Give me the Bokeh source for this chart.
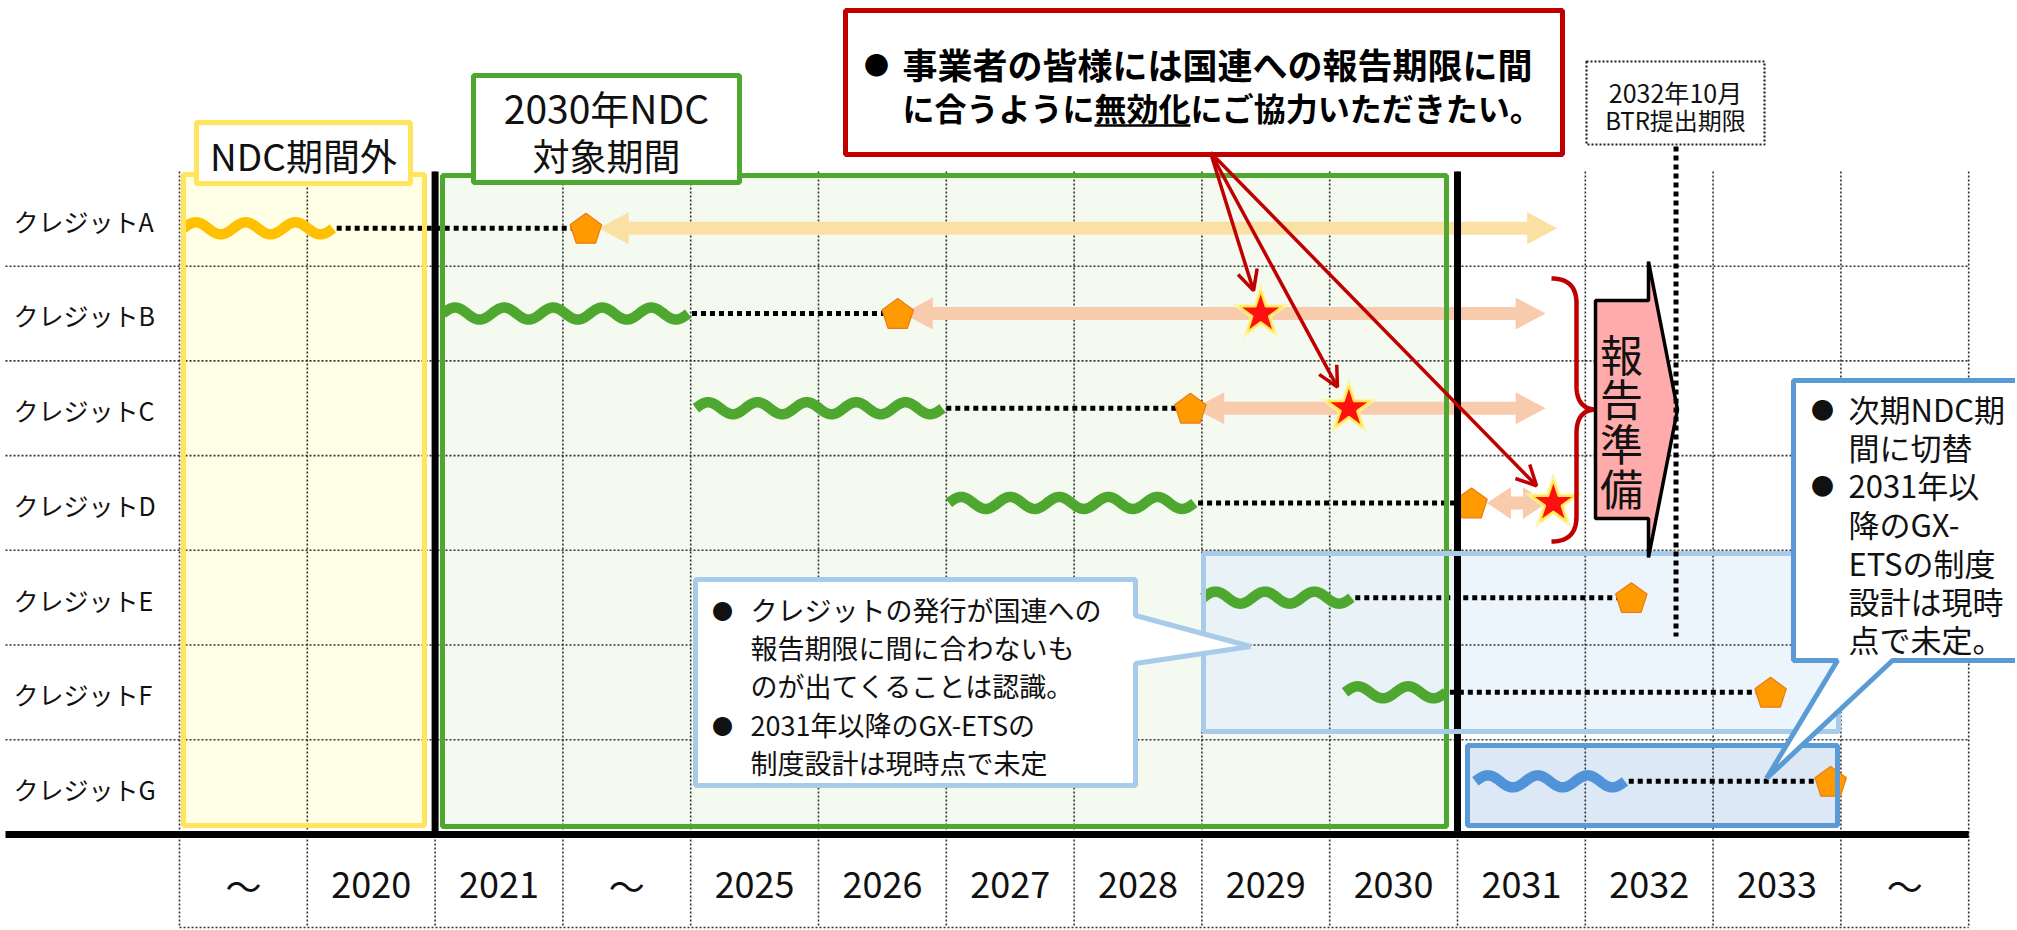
import numpy as np
from bokeh.plotting import figure
from bokeh.models import Range1d, Arrow, OpenHead
from bokeh.core.properties import value
from bokeh.embed import file_html
from bokeh.resources import INLINE

# ---------------- data ----------------
credits = ["クレジットA", "クレジットB", "クレジットC", "クレジットD",
           "クレジットE", "クレジットF", "クレジットG"]
periods = ["～", "2020", "2021", "～", "2025", "2026", "2027", "2028",
           "2029", "2030", "2031", "2032", "2033", "～"]
credit_row = [0.60, 1.50, 2.50, 3.50, 4.50, 5.50, 6.44]
issue_start = [0.03, 2.06, 4.04, 6.02, 8.01, 9.12, 10.14]
issue_end = [1.20, 3.98, 5.97, 7.94, 9.17, 9.91, 11.31]
issue_waves = [3, 5, 5, 5, 3, 2, 3]
issue_period = ["outside", "ndc", "ndc", "ndc", "ndc", "ndc", "next"]
cancel_at = [3.18, 5.62, 7.91, 10.11, 11.36, 12.45, 12.92]
valid_from = [3.28, 5.66, 7.94, 10.23]
valid_to = [10.78, 10.69, 10.69, 10.70]
deadline_idx = [1, 2, 3]
deadline_at = [8.46, 9.15, 10.75]
btr_deadline = 11.71

# ---------------- layout ----------------
FONT = "Noto Sans CJK JP"
OFF = 0
W, H = 2015, 929
GX0, COL_W = 179.0, 127.8
GY0, ROW_H = 171.0, 94.7


def X(px):
    return (px - GX0) / COL_W


def Y(py):
    return (py - GY0) / ROW_H


def poly(pts):
    return [X(a) for a, b in pts], [Y(b) for a, b in pts]


p = figure(width=W, height=H, output_backend="svg", toolbar_location=None,
           x_range=Range1d(X(OFF), X(OFF + W)), y_range=Range1d(Y(OFF + H), Y(OFF)),
           x_axis_type=None, y_axis_type=None, min_border=0)
p.xgrid.visible = False
p.ygrid.visible = False
p.outline_line_color = None
p.background_fill_color = "white"
p.border_fill_color = "white"

WAVE_COL = {"outside": "#FFC000", "ndc": "#4EA72E", "next": "#5093D8"}
RED = "#C00000"
YEL = "#FFE45C"
GRN = "#4EA72E"
LBLUE = "#A8CBEA"
BLUE = "#5B9BD5"


def txt(x, y, t, size, align="left", bold=False, color="#111111"):
    p.text(x=x, y=y, text=t, text_font=value(FONT), text_font_size=f"{size}px",
           text_align=align, text_baseline="middle", text_color=color,
           text_font_style="bold" if bold else "normal")


# ---- period fills ----
p.quad(left=[X(183)], right=[X(424)], top=[Y(174)], bottom=[Y(825)],
       fill_color="#FFFFE6", line_color=None)
p.quad(left=[X(442)], right=[X(1446)], top=[Y(175)], bottom=[Y(826)],
       fill_color="#F5FAF1", line_color=None)
p.quad(left=[X(1203)], right=[X(1838)], top=[Y(553)], bottom=[Y(731)],
       fill_color="#E2EFFA", fill_alpha=0.65, line_color=None)
p.quad(left=[X(1467)], right=[X(1837)], top=[Y(745)], bottom=[Y(825)],
       fill_color="#DCE8F5", line_color=None)

# ---- thin dotted grid ----
ncol = len(periods)
nrow = len(credits)
p.segment(x0=list(range(ncol + 1)), x1=list(range(ncol + 1)),
          y0=[0] * (ncol + 1), y1=[Y(927)] * (ncol + 1),
          line_color="#333333", line_width=1.6, line_dash="2 2")
p.segment(x0=[X(5)] * (nrow - 1), x1=[ncol] * (nrow - 1),
          y0=list(range(1, nrow)), y1=list(range(1, nrow)),
          line_color="#333333", line_width=1.6, line_dash="2 2")
p.segment(x0=[0], x1=[ncol], y0=[Y(927)], y1=[Y(927)],
          line_color="#333333", line_width=1.6, line_dash="2 2")

# ---- credits: connectors, waves, cancellation marks ----
p.segment(x0=[e + 0.03 for e in issue_end], x1=cancel_at, y0=credit_row, y1=credit_row,
          line_color="black", line_width=5, line_dash="5 4")
for i in range(nrow):
    t = np.linspace(0, 1, 400)
    s = np.sin(2 * np.pi * issue_waves[i] * t)
    off = s * 6.0
    xs = issue_start[i] + (issue_end[i] - issue_start[i]) * t
    ys = credit_row[i] - off / ROW_H
    p.line(xs, ys, line_width=10.5, line_color=WAVE_COL[issue_period[i]])

# double arrows (validity)
arr_x, arr_y, arr_c = [], [], []
for i in range(len(valid_from)):
    xl = GX0 + valid_from[i] * COL_W
    xr = GX0 + valid_to[i] * COL_W
    yc = GY0 + credit_row[i] * ROW_H
    hl = min(30.0, 0.4 * (xr - xl))
    hh, sh = 16.0, 6.5
    pts = [(xl, yc), (xl + hl, yc - hh), (xl + hl, yc - sh), (xr - hl, yc - sh),
           (xr - hl, yc - hh), (xr, yc), (xr - hl, yc + hh), (xr - hl, yc + sh),
           (xl + hl, yc + sh), (xl + hl, yc + hh)]
    a, b = poly(pts)
    arr_x.append(a)
    arr_y.append(b)
    arr_c.append("#FBE0A3" if i == 0 else "#F8CBAD")
p.patches(arr_x, arr_y, fill_color=arr_c, line_color=None)

# pentagons
pg_x, pg_y = [], []
for i in range(nrow):
    cx = GX0 + cancel_at[i] * COL_W
    cy = GY0 + credit_row[i] * ROW_H
    ang = np.pi / 2 + np.arange(5) * 2 * np.pi / 5
    pts = [(cx + 16.5 * np.cos(a), cy - 16.5 * np.sin(a) + 1.5) for a in ang]
    a, b = poly(pts)
    pg_x.append(a)
    pg_y.append(b)
p.patches(pg_x, pg_y, fill_color="#FF9A00", line_color="#EE7A10", line_width=1.2)

# stars (reporting deadline)
star_y = [credit_row[i] for i in deadline_idx]
p.scatter(x=deadline_at, y=star_y, marker="star", size=62, fill_color="#FFF3A0",
          fill_alpha=0.8, line_color=None)
p.scatter(x=deadline_at, y=star_y, marker="star", size=45, fill_color="#FF1010",
          line_color="#FFE84A", line_width=2)

# ---- thick black lines ----
p.segment(x0=[2, 10], x1=[2, 10], y0=[Y(171)] * 2, y1=[Y(834)] * 2,
          line_color="black", line_width=7)
p.segment(x0=[X(5)], x1=[ncol], y0=[Y(834)], y1=[Y(834)],
          line_color="black", line_width=7)

# ---- period borders ----
p.quad(left=[X(183)], right=[X(424)], top=[Y(174)], bottom=[Y(825)],
       fill_color=None, line_color=YEL, line_width=5)
p.quad(left=[X(442)], right=[X(1446)], top=[Y(175)], bottom=[Y(826)],
       fill_color=None, line_color=GRN, line_width=5)
p.quad(left=[X(1203)], right=[X(1838)], top=[Y(553)], bottom=[Y(731)],
       fill_color=None, line_color=LBLUE, line_width=5)
p.quad(left=[X(1467)], right=[X(1837)], top=[Y(745)], bottom=[Y(825)],
       fill_color=None, line_color=BLUE, line_width=5)

# label boxes
p.quad(left=[X(196)], right=[X(410)], top=[Y(122)], bottom=[Y(183)],
       fill_color="white", line_color=YEL, line_width=5)
txt([X(303)], [Y(154)], ["NDC期間外"], 37, align="center")
p.quad(left=[X(473)], right=[X(739)], top=[Y(75)], bottom=[Y(182)],
       fill_color="white", line_color=GRN, line_width=5)
txt([X(606)], [Y(106)], ["2030年NDC"], 39, align="center")
txt([X(606)], [Y(154)], ["対象期間"], 37, align="center")

# row labels & period labels
txt([X(13)] * nrow, [i + 0.52 for i in range(nrow)], credits, 25)
txt([i + 0.5 for i in range(ncol)], [Y(884)] * ncol, periods, 36, align="center")

# ---- brace ----
def quad_bez(p0, c, p1, n=30):
    t = np.linspace(0, 1, n)[:, None]
    P0, C, P1 = np.array(p0), np.array(c), np.array(p1)
    return (1 - t) ** 2 * P0 + 2 * (1 - t) * t * C + t ** 2 * P1


seg = [quad_bez((1551, 278), (1576, 278), (1576, 303)),
       np.array([[1576, 303], [1576, 385]]),
       quad_bez((1576, 385), (1576, 409), (1596, 409)),
       quad_bez((1596, 409), (1576, 409), (1576, 433)),
       np.array([[1576, 433], [1576, 516]]),
       quad_bez((1576, 516), (1576, 541), (1551, 541))]
br = np.vstack(seg)
p.line([X(a) for a in br[:, 0]], [Y(b) for b in br[:, 1]], line_color=RED, line_width=4.5)

# ---- pink block arrow ----
a, b = poly([(1595, 300), (1648, 300), (1648, 261), (1677, 409), (1648, 557),
             (1648, 518), (1595, 518)])
p.patch(a, b, fill_color="#FFABAB", line_color="black", line_width=3.5)
txt([X(1621)] * 4, [Y(352), Y(396), Y(441), Y(486)], list("報告準備"), 43, align="center")

# ---- BTR deadline ----
p.quad(left=[X(1586)], right=[X(1764)], top=[Y(61)], bottom=[Y(144)],
       fill_color="white", line_color="#222222", line_width=2.2, line_dash="2 2")
txt([X(1675)], [Y(91)], ["2032年10月"], 25, align="center")
txt([X(1675)], [Y(119)], ["BTR提出期限"], 24, align="center")
p.segment(x0=[btr_deadline], x1=[btr_deadline], y0=[Y(146)], y1=[Y(636)],
          line_color="black", line_width=5, line_dash="5 4")

# ---- red message box ----
p.quad(left=[X(845)], right=[X(1562)], top=[Y(10)], bottom=[Y(154)],
       fill_color="white", line_color=RED, line_width=5)
FS = 32
txt([X(876)], [Y(63)], ["●"], 25, align="center", color="black")
txt([X(902)], [Y(63)], ["事業者の皆様には国連への報告期限に間"], 35, bold=True, color="black")
pre, mid, post = "に合うように", "無効化", "にご協力いただきたい。"
x1 = 902 + len(pre) * FS
x2 = x1 + len(mid) * FS
txt([X(902), X(x1), X(x2)], [Y(106)] * 3, [pre, mid, post], FS, bold=True, color="black")
p.segment(x0=[X(x1)], x1=[X(x2)], y0=[Y(125)], y1=[Y(125)], line_color="black", line_width=2.5)

# red pointer arrows to the stars
sx0, sy0 = 1210.0, 152.0
for k, i in enumerate(deadline_idx):
    tx = GX0 + deadline_at[k] * COL_W
    ty = GY0 + credit_row[i] * ROW_H
    dx, dy = tx - sx0, ty - sy0
    L = np.hypot(dx, dy)
    ex, ey = tx - dx / L * 24, ty - dy / L * 24
    p.add_layout(Arrow(end=OpenHead(size=20, line_color=RED, line_width=3.5),
                       x_start=X(sx0), y_start=Y(sy0), x_end=X(ex), y_end=Y(ey),
                       line_color=RED, line_width=3.5))

# ---- lower callout ----
a, b = poly([(695, 579), (1135, 579), (1135, 615), (1250, 646), (1135, 663),
             (1135, 785), (695, 785)])
p.patch(a, b, fill_color="white", line_color=LBLUE, line_width=5)
txt([X(722), X(722)], [Y(609), Y(724)], ["●", "●"], 21, align="center")
txt([X(750)] * 5, [Y(609), Y(647), Y(685), Y(724), Y(762)],
    ["クレジットの発行が国連への", "報告期限に間に合わないも", "のが出てくることは認識。",
     "2031年以降のGX-ETSの", "制度設計は現時点で未定"], 27)

# ---- right callout ----
a, b = poly([(1793, 380), (2030, 380), (2030, 660), (1892, 660), (1766, 778),
             (1837, 660), (1793, 660)])
p.patch(a, b, fill_color="white", line_color=BLUE, line_width=5)
txt([X(1822), X(1822)], [Y(408), Y(484)], ["●", "●"], 23, align="center")
txt([X(1848)] * 7, [Y(408), Y(446), Y(484), Y(523), Y(562), Y(600), Y(638)],
    ["次期NDC期", "間に切替", "2031年以", "降のGX-", "ETSの制度", "設計は現時", "点で未定。"], 31)

open("out.html", "w").write(file_html(p, INLINE))
